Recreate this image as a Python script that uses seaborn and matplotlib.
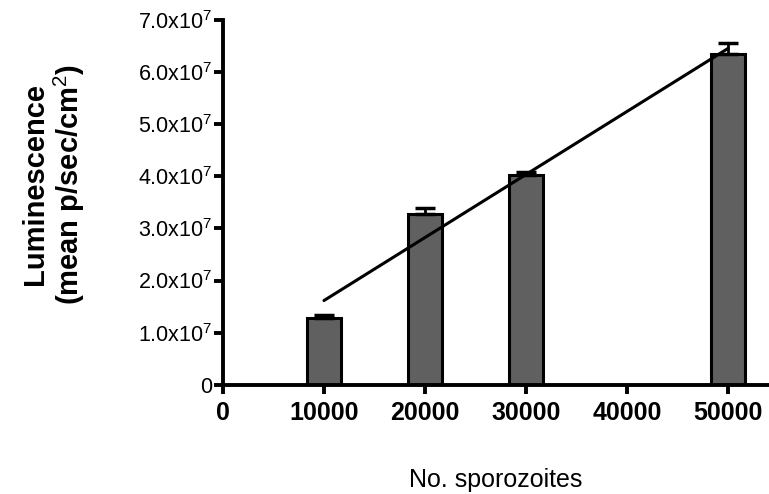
import numpy as np
import pandas as pd
import matplotlib
matplotlib.use("Agg")
import matplotlib.pyplot as plt
import seaborn as sns

# data
sporozoites = [10000, 20000, 30000, 50000]
luminescence = [1.28e7, 3.28e7, 4.02e7, 6.34e7]
sem = [0.05e7, 0.12e7, 0.06e7, 0.22e7]

y_ticks = [0, 1e7, 2e7, 3e7, 4e7, 5e7, 6e7, 7e7]
y_tick_labels = ["0"] + [r"%d.0x10$^{7}$" % i for i in range(1, 8)]
x_ticks = [0, 10000, 20000, 30000, 40000, 50000]

sns.set_style("ticks")
plt.rcParams["font.family"] = ["Liberation Sans", "DejaVu Sans"]
plt.rcParams["mathtext.fontset"] = "custom"
plt.rcParams["mathtext.rm"] = "Liberation Sans"
plt.rcParams["mathtext.bf"] = "Liberation Sans:bold"
for k in ["text.color", "axes.labelcolor", "xtick.color", "ytick.color", "axes.edgecolor"]:
    plt.rcParams[k] = "black"

df = pd.DataFrame({"n": sporozoites, "lum": luminescence})

fig = plt.figure(figsize=(7.69, 4.94), dpi=100)
ax = fig.add_axes([0.29, 0.221, 0.709, 0.739])

sns.barplot(data=df, x="n", y="lum", native_scale=True, width=0.33,
            color="#606060", edgecolor="black", linewidth=2.2,
            saturation=1, errorbar=None, ax=ax)
ax.errorbar(sporozoites, luminescence, yerr=[np.zeros(4), sem], fmt="none",
            ecolor="black", elinewidth=2, capsize=7, capthick=2.5, zorder=1)

# linear fit through the means
sns.regplot(data=df, x="n", y="lum", scatter=False, ci=None, truncate=True,
            line_kws={"color": "black", "linewidth": 2.2}, ax=ax)

ax.set_xlim(0, 54000)
ax.set_ylim(0, 7e7)
ax.set_xticks(x_ticks)
ax.set_xticklabels([str(t) for t in x_ticks], fontsize=18, fontweight="bold")
ax.set_yticks(y_ticks)
ax.set_yticklabels(y_tick_labels, fontsize=15.5)

sns.despine(ax=ax)
for s in ["left", "bottom"]:
    ax.spines[s].set_linewidth(2.8)
ax.tick_params(axis="both", width=2.8, length=6.5, direction="out", pad=1.5)
ax.tick_params(axis="x", pad=5)

ax.set_xlabel("No. sporozoites", fontsize=18, labelpad=31)
ax.set_ylabel("Luminescence\n(mean p/sec/cm$^{2}$)", fontsize=21,
              fontweight="bold", linespacing=1.1)
ax.yaxis.set_label_coords(-0.249, 0.55)

fig.savefig("out.png", dpi=100)
